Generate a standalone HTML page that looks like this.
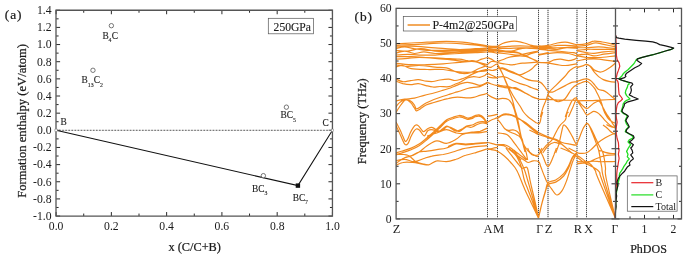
<!DOCTYPE html>
<html><head><meta charset="utf-8"><style>
html,body{margin:0;padding:0;background:#fff;}
svg{display:block;filter:blur(0.3px);}
text{font-family:"Liberation Serif", serif;fill:#1a1a1a;}
.b{stroke:#1a1a1a;stroke-width:0.22px;}
.m{stroke:#1a1a1a;stroke-width:0.12px;}
</style></head><body>
<svg width="685" height="257" viewBox="0 0 685 257">
<path d="M56.10 216.06v-4M56.10 10.26v4M83.73 216.06v-2.5M83.73 10.26v2.5M111.37 216.06v-4M111.37 10.26v4M139.00 216.06v-2.5M139.00 10.26v2.5M166.64 216.06v-4M166.64 10.26v4M194.27 216.06v-2.5M194.27 10.26v2.5M221.91 216.06v-4M221.91 10.26v4M249.54 216.06v-2.5M249.54 10.26v2.5M277.18 216.06v-4M277.18 10.26v4M304.81 216.06v-2.5M304.81 10.26v2.5M332.45 216.06v-4M332.45 10.26v4M56.1 216.06h4M332.45 216.06h-4M56.1 207.48h2.5M332.45 207.48h-2.5M56.1 198.91h4M332.45 198.91h-4M56.1 190.33h2.5M332.45 190.33h-2.5M56.1 181.76h4M332.45 181.76h-4M56.1 173.19h2.5M332.45 173.19h-2.5M56.1 164.61h4M332.45 164.61h-4M56.1 156.03h2.5M332.45 156.03h-2.5M56.1 147.46h4M332.45 147.46h-4M56.1 138.89h2.5M332.45 138.89h-2.5M56.1 130.31h4M332.45 130.31h-4M56.1 121.73h2.5M332.45 121.73h-2.5M56.1 113.16h4M332.45 113.16h-4M56.1 104.59h2.5M332.45 104.59h-2.5M56.1 96.01h4M332.45 96.01h-4M56.1 87.44h2.5M332.45 87.44h-2.5M56.1 78.86h4M332.45 78.86h-4M56.1 70.28h2.5M332.45 70.28h-2.5M56.1 61.71h4M332.45 61.71h-4M56.1 53.13h2.5M332.45 53.13h-2.5M56.1 44.56h4M332.45 44.56h-4M56.1 35.98h2.5M332.45 35.98h-2.5M56.1 27.41h4M332.45 27.41h-4M56.1 18.83h2.5M332.45 18.83h-2.5M56.1 10.26h4M332.45 10.26h-4" stroke="#2a2a2a" stroke-width="1" fill="none"/>
<path d="M56.0 9.61V216.71M332.45 9.61V216.71M55.45 10.26H333.09999999999997M55.45 216.06H333.09999999999997" fill="none" stroke="#555555" stroke-width="1.3"/>
<line x1="56.1" y1="130.31" x2="332.45" y2="130.31" stroke="#dcdcdc" stroke-width="0.9"/>
<line x1="56.1" y1="130.31" x2="332.45" y2="130.31" stroke="#505050" stroke-width="0.9" stroke-dasharray="1.6 1.47"/>
<polyline points="56.1,130.31 297.91,185.62 332.45,130.31" fill="none" stroke="#111" stroke-width="1.05"/>
<circle cx="111.37" cy="25.69" r="2.2" fill="#fff" stroke="#555" stroke-width="0.8"/>
<circle cx="92.95" cy="70.29" r="2.2" fill="#fff" stroke="#555" stroke-width="0.8"/>
<circle cx="286.39" cy="107.16" r="2.2" fill="#fff" stroke="#555" stroke-width="0.8"/>
<circle cx="263.36" cy="175.67" r="2.2" fill="#fff" stroke="#555" stroke-width="0.8"/>
<rect x="295.71" y="183.42" width="4.4" height="4.4" fill="#111"/>
<rect x="54.90" y="129.11" width="2.4" height="2.4" fill="#fff" stroke="#777" stroke-width="0.5"/>
<rect x="331.25" y="129.11" width="2.4" height="2.4" fill="#fff" stroke="#777" stroke-width="0.5"/>
<text x="56.10" y="230" font-size="11.7" text-anchor="middle">0.0</text>
<text x="111.37" y="230" font-size="11.7" text-anchor="middle">0.2</text>
<text x="166.64" y="230" font-size="11.7" text-anchor="middle">0.4</text>
<text x="221.91" y="230" font-size="11.7" text-anchor="middle">0.6</text>
<text x="277.18" y="230" font-size="11.7" text-anchor="middle">0.8</text>
<text x="332.45" y="230" font-size="11.7" text-anchor="middle">1.0</text>
<text x="51.6" y="219.86" font-size="11.7" text-anchor="end">-1.0</text>
<text x="51.6" y="202.71" font-size="11.7" text-anchor="end">-0.8</text>
<text x="51.6" y="185.56" font-size="11.7" text-anchor="end">-0.6</text>
<text x="51.6" y="168.41" font-size="11.7" text-anchor="end">-0.4</text>
<text x="51.6" y="151.26" font-size="11.7" text-anchor="end">-0.2</text>
<text x="51.6" y="134.11" font-size="11.7" text-anchor="end">0.0</text>
<text x="51.6" y="116.96" font-size="11.7" text-anchor="end">0.2</text>
<text x="51.6" y="99.81" font-size="11.7" text-anchor="end">0.4</text>
<text x="51.6" y="82.66" font-size="11.7" text-anchor="end">0.6</text>
<text x="51.6" y="65.51" font-size="11.7" text-anchor="end">0.8</text>
<text x="51.6" y="48.36" font-size="11.7" text-anchor="end">1.0</text>
<text x="51.6" y="31.21" font-size="11.7" text-anchor="end">1.2</text>
<text x="51.6" y="14.06" font-size="11.7" text-anchor="end">1.4</text>
<text x="102.4" y="38.8" font-size="9.4" class="m"><tspan>B</tspan><tspan font-size="5.8" dy="3.3" dx="-0.1">4</tspan><tspan dy="-3.3" dx="0.3">C</tspan></text>
<text x="81.6" y="83.4" font-size="9.4" class="m"><tspan>B</tspan><tspan font-size="5.8" dy="3.3" dx="-0.1">13</tspan><tspan dy="-3.3" dx="0.3">C</tspan><tspan font-size="5.8" dy="3.3" dx="-0.1">2</tspan></text>
<text x="280.5" y="118.3" font-size="9.4" class="m"><tspan>BC</tspan><tspan font-size="5.8" dy="3.3" dx="-0.1">5</tspan></text>
<text x="252.0" y="192.1" font-size="9.4" class="m"><tspan>BC</tspan><tspan font-size="5.8" dy="3.3" dx="-0.1">3</tspan></text>
<text x="292.7" y="200.7" font-size="9.4" class="m"><tspan>BC</tspan><tspan font-size="5.8" dy="3.3" dx="-0.1">7</tspan></text>
<text x="60.5" y="125.1" font-size="9.4" class="m"><tspan>B</tspan></text>
<text x="322.4" y="125.6" font-size="9.4" class="m"><tspan>C</tspan></text>
<rect x="268.3" y="18.3" width="45.1" height="15.5" fill="#fff" stroke="#555" stroke-width="0.7"/>
<text x="273.6" y="31.3" font-size="11.6" class="m">250GPa</text>
<text x="194.7" y="250.7" font-size="12.3" text-anchor="middle" class="b">x (C/C+B)</text>
<text transform="translate(25.5 120.9) rotate(-90)" font-size="12.6" text-anchor="middle" class="b">Formation enthalpy (eV/atom)</text>
<text x="4.8" y="19.4" font-size="13.4" letter-spacing="0.9" class="b">(a)</text>
<line x1="487.5" y1="8" x2="487.5" y2="218" stroke="#d0d0d0" stroke-width="1"/>
<line x1="487.5" y1="8" x2="487.5" y2="218" stroke="#4a4a4a" stroke-width="1" stroke-dasharray="1 1"/>
<line x1="497.5" y1="8" x2="497.5" y2="218" stroke="#d0d0d0" stroke-width="1"/>
<line x1="497.5" y1="8" x2="497.5" y2="218" stroke="#4a4a4a" stroke-width="1" stroke-dasharray="1 1"/>
<line x1="538.5" y1="8" x2="538.5" y2="218" stroke="#d0d0d0" stroke-width="1"/>
<line x1="538.5" y1="8" x2="538.5" y2="218" stroke="#4a4a4a" stroke-width="1" stroke-dasharray="1 1"/>
<line x1="548.0" y1="8" x2="548.0" y2="218" stroke="#d0d0d0" stroke-width="1"/>
<line x1="548.0" y1="8" x2="548.0" y2="218" stroke="#4a4a4a" stroke-width="1" stroke-dasharray="1 1"/>
<line x1="577.0" y1="8" x2="577.0" y2="218" stroke="#d0d0d0" stroke-width="1"/>
<line x1="577.0" y1="8" x2="577.0" y2="218" stroke="#4a4a4a" stroke-width="1" stroke-dasharray="1 1"/>
<line x1="586.5" y1="8" x2="586.5" y2="218" stroke="#d0d0d0" stroke-width="1"/>
<line x1="586.5" y1="8" x2="586.5" y2="218" stroke="#4a4a4a" stroke-width="1" stroke-dasharray="1 1"/>
<defs><clipPath id="bc0"><rect x="396" y="8.5" width="91.5" height="210"/></clipPath><clipPath id="bc1"><rect x="487.5" y="8.5" width="10.0" height="210"/></clipPath><clipPath id="bc2"><rect x="538.5" y="8.5" width="38.5" height="210"/></clipPath><clipPath id="bc3"><rect x="487.5" y="8.5" width="89.5" height="210"/></clipPath><clipPath id="bc4"><rect x="497.5" y="8.5" width="41.0" height="210"/></clipPath><clipPath id="bc5"><rect x="577" y="8.5" width="38.5" height="210"/></clipPath></defs><g fill="none" stroke="#F28A1E" stroke-width="1.2" stroke-linejoin="round"><path clip-path="url(#bc0)" d="M395.0 43.8C397.7 43.7 405.7 43.3 411.1 43.0C416.4 42.8 421.2 42.5 427.1 42.2C433.0 42.0 440.5 41.4 446.4 41.4C452.3 41.4 457.6 41.8 462.4 42.2C467.3 42.6 471.1 43.2 475.3 43.8C479.4 44.4 485.3 45.6 487.3 45.9M395.0 45.4C397.7 45.3 405.7 44.9 411.1 44.6C416.4 44.4 421.8 44.1 427.1 43.8C432.5 43.6 437.3 43.0 443.2 43.0C449.1 43.0 456.6 43.4 462.4 43.8C468.3 44.2 474.4 45.0 478.5 45.4C482.7 45.9 485.9 46.4 487.3 46.6M395.0 47.0C397.7 46.9 404.4 46.1 411.1 46.2C417.8 46.4 427.1 47.3 435.1 47.8C443.2 48.4 452.5 49.3 459.2 49.5C465.9 49.6 470.6 48.9 475.3 48.7C480.0 48.4 485.3 48.0 487.3 47.8M395.0 48.7C396.6 48.4 401.4 47.0 404.6 47.0C407.8 47.0 410.5 48.1 414.3 48.7C418.0 49.2 422.3 50.0 427.1 50.3C431.9 50.5 437.3 50.3 443.2 50.3C449.1 50.3 455.1 50.4 462.4 50.3C469.8 50.1 483.2 49.3 487.3 49.1M395.0 50.3C397.1 50.4 403.6 51.3 407.8 51.1C412.1 50.8 416.1 48.7 420.7 48.7C425.2 48.7 430.1 50.5 435.1 51.1C440.2 51.6 445.9 51.9 451.2 51.9C456.6 51.9 461.2 51.3 467.3 51.1C473.3 50.8 484.0 50.4 487.3 50.3M395.0 53.5C396.6 53.1 401.4 51.1 404.6 51.1C407.8 51.1 411.1 53.3 414.3 53.5C417.5 53.6 420.4 51.9 423.9 51.9C427.4 51.9 430.6 53.3 435.1 53.5C439.7 53.6 445.9 52.9 451.2 52.7C456.6 52.4 461.2 52.1 467.3 51.9C473.3 51.6 484.0 51.2 487.3 51.1M395.0 55.1C397.1 54.9 403.8 54.3 407.8 54.3C411.9 54.3 414.5 54.9 419.1 55.1C423.6 55.2 431.1 55.2 435.1 55.1C439.2 54.9 439.2 54.5 443.2 54.3C447.2 54.0 453.9 53.7 459.2 53.5C464.6 53.2 470.6 52.9 475.3 52.7C480.0 52.4 485.3 52.0 487.3 51.9M395.0 56.7C397.7 56.7 405.7 56.5 411.1 56.7C416.4 56.8 421.8 57.2 427.1 57.5C432.5 57.8 437.8 58.0 443.2 58.3C448.5 58.6 455.2 58.7 459.2 59.1C463.3 59.5 464.6 60.3 467.3 60.7C469.9 61.1 472.9 61.8 475.3 61.5C477.7 61.2 479.7 59.8 481.7 59.1C483.7 58.4 486.4 57.8 487.3 57.5M395.0 59.1C397.1 59.0 403.8 58.6 407.8 58.3C411.9 58.0 414.5 57.5 419.1 57.5C423.6 57.5 429.8 57.9 435.1 58.3C440.5 58.7 446.4 59.4 451.2 59.9C456.0 60.4 460.6 61.4 464.1 61.5C467.5 61.6 469.7 60.6 472.1 60.7C474.5 60.8 476.0 61.6 478.5 62.3C481.0 63.0 485.9 64.3 487.3 64.7M395.0 63.1C397.7 63.4 405.7 64.4 411.1 64.7C416.4 65.0 421.8 64.8 427.1 64.7C432.5 64.6 437.8 64.3 443.2 63.9C448.5 63.5 454.4 62.7 459.2 62.3C464.1 61.9 468.9 61.4 472.1 61.5C475.3 61.6 476.4 62.0 478.5 62.6C480.6 63.3 483.5 64.9 484.9 65.5C486.4 66.1 486.9 66.2 487.3 66.3M395.0 64.7C397.1 65.0 403.8 66.2 407.8 66.3C411.9 66.4 414.5 65.4 419.1 65.5C423.6 65.6 430.6 66.7 435.1 67.1C439.7 67.5 442.9 67.1 446.4 67.9C449.9 68.7 453.3 71.0 456.0 71.9C458.7 72.9 460.0 73.4 462.4 73.5C464.9 73.7 467.8 73.5 470.5 72.7C473.2 71.9 476.1 69.8 478.5 68.7C480.9 67.7 483.5 66.6 484.9 66.3C486.4 66.0 486.9 67.0 487.3 67.1M395.0 67.1C396.3 66.9 400.4 65.2 403.0 65.5C405.7 65.8 407.0 68.1 411.1 68.7C415.1 69.4 421.8 69.4 427.1 69.5C432.5 69.7 438.4 69.2 443.2 69.5C448.0 69.9 452.0 71.2 456.0 71.6C460.0 72.1 463.5 72.3 467.3 72.3C471.0 72.3 475.2 71.9 478.5 71.6C481.9 71.3 485.9 70.8 487.3 70.7M395.0 78.7C396.3 79.2 400.2 81.4 402.8 81.7C405.4 82.0 408.0 81.0 410.6 80.7C413.2 80.4 415.7 79.6 418.3 79.7C420.9 79.8 423.7 80.9 426.1 81.2C428.6 81.5 430.7 81.7 433.0 81.5C435.3 81.3 437.4 80.4 440.0 80.0C442.6 79.6 446.2 79.1 448.7 79.2C451.2 79.3 452.8 80.5 454.9 80.5C457.0 80.5 459.0 79.8 461.1 79.2C463.2 78.6 465.3 77.6 467.4 76.7C469.5 75.8 471.5 74.5 473.6 73.6C475.7 72.7 477.9 71.7 479.8 71.1C481.7 70.5 483.5 70.2 484.8 69.9C486.1 69.6 486.2 69.4 487.5 69.5C488.8 69.6 490.6 70.5 492.3 70.5C494.0 70.5 496.6 69.4 497.5 69.2M395.0 80.7C396.3 81.2 400.2 82.9 402.8 83.6C405.4 84.2 408.0 84.6 410.6 84.6C413.2 84.6 415.7 83.4 418.3 83.6C420.9 83.8 423.7 85.0 426.1 85.6C428.6 86.2 430.7 86.8 433.0 87.0C435.3 87.2 437.4 86.5 440.0 86.5C442.6 86.5 446.2 87.1 448.7 86.7C451.2 86.3 452.8 85.0 454.9 84.2C457.0 83.4 459.0 82.7 461.1 81.7C463.2 80.7 465.3 78.8 467.4 78.0C469.5 77.2 471.5 76.8 473.6 76.7C475.7 76.6 477.9 77.5 479.8 77.3C481.7 77.1 483.5 76.1 484.8 75.5C486.1 74.9 486.2 73.6 487.5 73.6C488.8 73.6 490.6 74.8 492.3 75.5C494.0 76.2 496.6 77.6 497.5 78.0M395.0 101.1C396.6 100.8 401.5 99.7 404.7 99.2C407.9 98.7 411.1 98.9 414.4 98.2C417.6 97.5 420.9 96.2 424.2 95.3C427.4 94.4 430.8 93.8 433.9 93.0C436.9 92.2 440.0 91.2 442.5 90.4C445.0 89.7 446.6 89.2 448.7 88.5C450.8 87.8 452.8 86.9 454.9 86.1C457.0 85.3 459.0 84.2 461.1 83.6C463.2 83.0 465.3 82.3 467.4 82.3C469.5 82.3 471.5 83.1 473.6 83.6C475.7 84.1 477.9 85.4 479.8 85.4C481.7 85.4 483.5 84.1 484.8 83.6C486.1 83.1 486.2 82.2 487.5 82.3C488.8 82.4 490.6 83.6 492.3 84.2C494.0 84.8 496.6 85.8 497.5 86.1M395.0 108.5C395.6 107.6 397.3 104.5 398.9 103.1C400.5 101.6 402.8 100.1 404.7 99.8C406.6 99.5 409.0 100.2 410.6 101.1C412.2 102.0 413.4 103.7 414.4 105.0C415.4 106.3 415.4 108.6 416.4 108.9C417.4 109.2 418.7 107.9 420.3 106.9C421.9 105.9 423.8 104.2 426.1 103.0C428.4 101.8 431.2 100.6 433.9 99.5C436.6 98.4 440.0 97.3 442.5 96.5C445.0 95.7 446.6 95.2 448.7 94.5C450.8 93.8 452.8 93.1 454.9 92.5C457.0 91.9 459.0 91.5 461.1 90.8C463.2 90.1 465.3 89.1 467.4 88.5C469.5 87.9 471.5 87.6 473.6 87.3C475.7 87.0 477.9 87.2 479.8 86.7C481.7 86.2 483.5 84.8 484.8 84.2C486.1 83.6 487.1 83.1 487.5 82.9M395.0 114.0C396.0 112.5 399.0 107.4 400.8 105.0C402.6 102.6 404.1 100.2 405.7 99.8C407.3 99.4 409.2 101.2 410.6 102.6C412.1 104.0 413.4 106.6 414.4 108.0C415.4 109.4 415.4 110.6 416.4 110.8C417.4 111.0 418.7 109.9 420.3 108.9C421.9 107.9 423.8 106.1 426.1 105.0C428.4 103.9 431.2 103.3 433.9 102.5C436.6 101.7 440.0 100.7 442.5 100.0C445.0 99.3 446.6 99.0 448.7 98.5C450.8 98.0 452.8 97.5 454.9 97.3C457.0 97.1 459.0 97.2 461.1 97.3C463.2 97.4 465.3 97.9 467.4 97.9C469.5 97.9 471.5 97.7 473.6 97.3C475.7 96.9 477.9 95.9 479.8 95.4C481.7 94.9 483.5 94.5 484.8 94.2C486.1 93.9 486.2 93.2 487.5 93.5C488.8 93.8 490.6 95.3 492.3 96.0C494.0 96.7 496.6 97.6 497.5 97.9M427.1 136.1C428.7 135.6 433.5 133.9 436.8 132.9C440.0 131.8 443.2 129.7 446.4 129.7C449.6 129.7 453.3 132.2 456.0 132.9C458.7 133.5 459.8 133.8 462.4 133.7C465.1 133.5 469.1 132.5 472.1 132.1C475.0 131.7 477.6 131.9 480.1 131.3C482.7 130.6 486.1 128.6 487.3 128.1M404.6 157.8C406.0 157.4 410.3 156.3 412.7 155.4C415.1 154.4 416.7 153.8 419.1 152.1C421.5 150.5 424.2 147.6 427.1 145.7C430.1 143.9 433.5 141.3 436.8 140.9C440.0 140.5 443.2 143.6 446.4 143.3C449.6 143.0 453.3 140.8 456.0 139.3C458.7 137.8 460.0 135.6 462.4 134.5C464.9 133.4 467.8 133.1 470.5 132.9C473.2 132.6 475.7 133.1 478.5 132.9C481.3 132.6 485.9 131.5 487.3 131.3M448.0 146.5C449.3 146.0 453.1 143.7 456.0 143.3C459.0 142.9 462.4 144.1 465.7 144.1C468.9 144.1 471.7 143.6 475.3 143.3C478.9 143.0 485.3 142.6 487.3 142.5M396.0 122.0C396.6 123.3 398.7 127.2 399.9 129.6C401.1 132.0 402.1 134.7 403.0 136.6C403.9 138.5 404.4 140.7 405.1 141.2C405.8 141.7 406.4 141.2 407.3 139.8C408.2 138.4 409.3 134.9 410.3 132.8C411.3 130.7 412.5 128.6 413.4 127.3C414.3 126.0 415.0 125.3 415.8 125.0C416.6 124.7 417.3 124.9 418.2 125.6C419.1 126.3 420.4 128.4 421.3 129.4C422.2 130.4 422.7 131.8 423.8 131.6C424.9 131.4 426.7 129.2 428.0 128.5C429.3 127.8 430.4 127.2 431.7 127.3C432.9 127.4 434.2 128.6 435.5 129.2C436.8 129.8 438.0 131.1 439.2 131.0C440.4 130.9 441.6 129.3 442.9 128.5C444.1 127.7 445.4 126.2 446.7 126.1C447.9 126.0 448.9 127.1 450.4 127.9C451.8 128.7 453.9 130.6 455.4 131.0C456.8 131.4 457.9 130.8 459.1 130.4C460.4 130.0 461.6 129.2 462.9 128.5C464.1 127.8 465.4 126.6 466.6 126.1C467.8 125.6 469.1 125.7 470.3 125.4C471.6 125.1 472.9 124.7 474.1 124.2C475.4 123.7 476.4 122.7 477.8 122.3C479.2 121.9 481.2 121.6 482.8 121.7C484.4 121.8 486.7 122.8 487.5 123.0M396.0 125.5C396.6 126.7 398.3 130.4 399.4 132.8C400.5 135.2 401.6 137.8 402.5 139.8C403.4 141.8 404.2 144.0 405.1 144.6C406.0 145.2 406.9 144.9 407.9 143.6C408.9 142.3 410.0 138.7 411.0 136.6C412.0 134.5 413.1 132.5 414.0 131.2C414.9 129.9 415.3 129.2 416.2 129.0C417.1 128.8 418.3 129.2 419.3 130.0C420.3 130.8 421.3 132.8 422.2 133.8C423.1 134.8 423.6 136.4 424.6 135.8C425.6 135.2 426.6 131.5 428.0 130.5C429.4 129.5 431.3 129.6 433.0 129.8C434.7 130.0 436.3 131.6 438.0 131.6C439.7 131.6 441.6 130.6 443.0 129.8C444.4 129.0 445.5 127.1 446.7 126.7C447.9 126.3 448.9 126.8 450.4 127.3C451.8 127.8 453.9 129.1 455.4 129.8C456.8 130.5 457.9 131.7 459.1 131.6C460.4 131.5 461.6 130.0 462.9 129.2C464.1 128.4 465.4 127.0 466.6 126.7C467.8 126.4 469.3 127.3 470.3 127.3C471.3 127.3 471.6 127.2 472.8 126.7C474.1 126.2 476.1 124.8 477.8 124.2C479.5 123.6 481.2 123.1 482.8 123.0C484.4 122.9 486.7 123.7 487.5 123.8M396.0 153.0C396.9 152.7 398.9 152.1 401.4 151.3C403.9 150.5 408.2 149.3 411.1 148.1C414.1 146.9 416.4 145.8 419.1 144.1C421.8 142.4 424.6 139.8 427.1 137.7C429.6 135.6 432.0 133.5 434.2 131.5C436.4 129.5 438.4 127.5 440.5 125.5C442.6 123.5 444.6 121.2 446.7 119.8C448.8 118.4 450.8 118.0 452.9 117.3C455.0 116.6 457.4 115.7 459.1 115.5C460.8 115.3 461.4 115.7 462.9 116.1C464.3 116.5 466.4 117.8 467.8 118.0C469.2 118.2 470.4 117.7 471.6 117.3C472.9 116.9 474.1 115.9 475.3 115.5C476.5 115.1 477.8 114.6 479.0 114.8C480.2 115.0 481.6 115.5 482.8 116.7C484.1 117.9 485.7 120.7 486.5 121.7C487.3 122.7 487.3 122.4 487.5 122.5M396.0 155.0C396.9 154.7 398.9 153.9 401.4 153.0C403.9 152.1 408.2 151.0 411.1 149.8C414.1 148.6 416.4 147.5 419.1 145.8C421.8 144.1 424.6 141.6 427.1 139.5C429.6 137.4 432.0 135.2 434.2 133.2C436.4 131.1 438.4 129.2 440.5 127.2C442.6 125.2 444.6 122.7 446.7 121.3C448.8 119.9 450.8 119.4 452.9 118.7C455.0 118.0 457.3 117.2 459.1 117.0C460.9 116.8 462.1 117.4 463.5 117.8C464.9 118.2 466.4 119.2 467.8 119.3C469.2 119.4 470.4 119.0 471.6 118.6C472.9 118.2 474.1 117.2 475.3 116.8C476.5 116.4 477.8 116.0 479.0 116.2C480.2 116.4 481.6 116.9 482.8 118.0C484.1 119.1 485.7 121.7 486.5 122.6C487.3 123.5 487.3 123.1 487.5 123.2M395.0 165.7C396.3 165.2 400.1 163.0 403.0 162.5C406.0 161.9 409.5 162.2 412.7 162.5C415.9 162.8 419.6 163.7 422.3 164.1C425.0 164.5 426.3 165.4 428.7 164.9C431.1 164.4 433.8 161.4 436.8 160.9C439.7 160.3 443.2 161.9 446.4 161.7C449.6 161.4 452.8 160.3 456.0 159.3C459.2 158.2 462.4 156.3 465.7 155.3C468.9 154.2 471.7 153.9 475.3 152.8C478.9 151.8 485.3 149.5 487.3 148.8M395.0 160.9C396.6 160.6 401.4 159.1 404.6 159.3C407.8 159.4 411.1 161.8 414.3 161.7C417.5 161.5 421.0 159.4 423.9 158.5C426.9 157.5 428.7 156.7 431.9 156.1C435.1 155.4 439.7 155.1 443.2 154.5C446.7 153.8 449.6 153.0 452.8 152.0C456.0 151.1 459.2 149.6 462.4 148.8C465.7 148.0 467.9 147.8 472.1 147.2C476.2 146.7 484.8 145.9 487.3 145.6M395.0 164.1C396.6 163.0 402.0 159.0 404.6 157.7C407.3 156.3 408.7 157.0 411.1 156.1C413.5 155.1 416.4 152.8 419.1 152.0C421.8 151.2 424.2 151.6 427.1 151.2C430.1 150.8 433.5 150.2 436.8 149.6C440.0 149.1 443.2 149.0 446.4 148.0C449.6 147.1 452.8 144.6 456.0 144.0C459.2 143.5 462.4 144.8 465.7 144.8C468.9 144.8 471.7 144.3 475.3 144.0C478.9 143.7 485.3 143.3 487.3 143.2M395.0 154.1C397.1 154.3 404.4 154.0 407.8 155.3C411.3 156.5 413.2 160.2 415.9 161.7C418.6 163.2 421.8 163.6 423.9 164.1C426.0 164.6 427.9 164.8 428.7 164.9"/><path clip-path="url(#bc1)" d="M484.8 69.9C485.2 69.8 486.2 69.4 487.5 69.5C488.8 69.6 490.6 70.5 492.3 70.5C494.0 70.5 496.2 69.5 497.5 69.2C498.8 68.9 499.6 68.9 500.0 68.8M484.8 75.5C485.2 75.2 486.2 73.6 487.5 73.6C488.8 73.6 490.6 74.8 492.3 75.5C494.0 76.2 496.2 77.5 497.5 78.0C498.8 78.5 499.6 78.4 500.0 78.5M487.4 45.9C489.1 46.0 494.4 46.9 497.5 46.2C500.6 45.6 502.9 43.2 505.9 42.2C508.9 41.3 512.3 40.6 515.5 40.6C518.7 40.6 522.2 41.6 525.1 42.2C528.1 42.9 530.9 44.0 533.2 44.6C535.5 45.3 536.3 45.8 538.8 45.9C541.3 46.1 545.0 45.9 548.1 45.4C551.2 45.0 554.4 43.6 557.3 43.0C560.1 42.5 562.6 42.1 565.3 42.2C568.0 42.4 571.4 43.4 573.3 43.8C575.3 44.2 574.7 44.6 576.9 44.6C579.1 44.6 583.5 44.2 586.5 43.8C589.5 43.4 593.6 42.5 595.0 42.2M487.4 46.6C489.1 46.6 493.9 46.7 497.5 46.6C501.1 46.4 504.5 45.5 509.1 45.4C513.7 45.4 520.2 46.1 525.1 46.2C530.1 46.4 535.0 46.5 538.8 46.6C542.6 46.6 545.0 46.7 548.1 46.6C551.2 46.4 554.4 45.6 557.3 45.4C560.1 45.3 562.0 45.4 565.3 45.4C568.6 45.5 573.3 45.8 576.9 45.9C580.4 46.1 583.5 46.4 586.5 46.2C589.5 46.1 593.6 45.2 595.0 45.0M487.4 47.8C489.1 47.8 493.9 47.7 497.5 47.8C501.1 48.0 504.5 48.7 509.1 48.7C513.7 48.7 520.2 48.0 525.1 47.8C530.1 47.7 535.0 47.6 538.8 47.5C542.6 47.5 545.0 47.5 548.1 47.5C551.2 47.6 552.5 47.9 557.3 47.8C562.1 47.8 572.0 47.1 576.9 47.0C581.7 47.0 583.5 47.5 586.5 47.5C589.5 47.5 593.6 47.1 595.0 47.0M487.4 49.1C489.1 49.2 493.9 49.1 497.5 49.5C501.1 49.8 505.0 50.9 509.1 51.1C513.2 51.2 517.9 50.7 521.9 50.3C526.0 49.9 530.4 48.9 533.2 48.7C536.0 48.4 536.3 48.7 538.8 48.7C541.3 48.7 545.0 48.5 548.1 48.7C551.2 48.8 554.4 49.6 557.3 49.5C560.1 49.3 562.0 48.1 565.3 47.8C568.6 47.6 573.3 48.0 576.9 48.2C580.4 48.3 583.5 48.6 586.5 48.7C589.5 48.7 593.6 48.7 595.0 48.7M487.4 50.3C489.1 50.3 494.4 50.0 497.5 50.3C500.6 50.5 502.6 51.5 505.9 51.9C509.1 52.3 513.9 52.8 517.1 52.7C520.3 52.5 521.5 51.6 525.1 51.1C528.8 50.5 535.0 49.6 538.8 49.5C542.6 49.3 545.0 50.0 548.1 50.3C551.2 50.5 553.1 50.7 557.3 51.1C561.5 51.5 570.1 52.3 573.3 52.7C576.6 53.1 574.7 53.5 576.9 53.5C579.1 53.5 583.5 52.9 586.5 52.7C589.5 52.4 593.6 52.0 595.0 51.9M487.4 51.1C489.1 51.1 493.6 51.2 497.5 51.1C501.4 50.9 506.9 49.9 510.7 50.3C514.5 50.7 517.4 52.5 520.3 53.5C523.3 54.4 525.3 55.6 528.4 55.9C531.4 56.1 535.5 55.5 538.8 55.1C542.1 54.7 545.0 53.9 548.1 53.5C551.2 53.1 553.9 52.7 557.3 52.7C560.7 52.7 565.2 52.9 568.5 53.5C571.8 54.0 573.9 55.3 576.9 55.9C579.9 56.4 583.5 56.7 586.5 56.7C589.5 56.7 593.6 56.0 595.0 55.9M487.4 51.9C488.6 52.0 491.8 52.1 494.6 52.7C497.4 53.2 500.5 54.5 504.3 55.1C508.0 55.6 512.6 55.2 517.1 55.9C521.7 56.5 528.0 58.0 531.6 59.1C535.2 60.2 536.0 61.8 538.8 62.3C541.6 62.8 545.6 62.7 548.1 62.3C550.7 61.9 552.0 60.4 554.1 59.9C556.1 59.4 558.1 59.0 560.5 59.1C562.9 59.2 566.1 60.7 568.5 60.7C570.9 60.7 573.5 59.6 574.9 59.1C576.3 58.6 576.5 57.8 576.9 57.5M487.4 57.5C488.1 57.8 489.7 58.3 491.4 59.1C493.1 59.9 494.6 62.3 497.5 62.3C500.5 62.3 505.0 60.2 509.1 59.1C513.2 58.0 517.9 56.7 521.9 55.9C526.0 55.1 530.4 54.5 533.2 54.3C536.0 54.0 536.3 54.5 538.8 54.3C541.3 54.0 546.6 52.9 548.1 52.7M487.4 64.7C488.1 64.2 489.7 61.9 491.4 61.5C493.1 61.1 495.4 61.5 497.5 62.3C499.7 63.1 501.5 65.0 504.3 66.3C507.0 67.7 511.0 69.1 513.9 70.3C516.9 71.5 519.8 72.6 521.9 73.5C524.1 74.5 526.0 75.5 526.8 76.0M487.4 67.1C488.1 67.1 489.7 67.7 491.4 67.1C493.1 66.6 494.6 64.3 497.5 63.9C500.5 63.5 504.5 64.8 509.1 64.7C513.7 64.6 520.2 63.5 525.1 63.1C530.1 62.7 535.0 62.3 538.8 62.3C542.6 62.3 545.0 62.7 548.1 63.1C551.2 63.5 554.4 64.3 557.3 64.7C560.1 65.1 562.0 65.6 565.3 65.5C568.6 65.4 573.3 64.3 576.9 63.9C580.4 63.5 583.5 63.4 586.5 63.1C589.5 62.8 593.6 62.4 595.0 62.3M497.5 65.5C498.9 66.0 503.1 67.7 505.9 68.7C508.6 69.8 511.5 70.7 513.9 71.9C516.3 73.1 519.3 75.3 520.3 76.0M565.3 76.0C566.1 75.0 568.2 71.9 570.1 70.3C572.0 68.7 574.1 67.3 576.9 66.3C579.6 65.4 583.5 64.6 586.5 64.7C589.5 64.8 593.6 66.7 595.0 67.1M586.5 67.1C587.2 67.9 589.6 70.9 591.0 71.9C592.4 73.0 594.3 73.3 595.0 73.5M485.0 76.0C486.1 76.3 489.3 77.3 491.4 77.6C493.5 77.9 495.7 77.9 497.5 77.6C499.4 77.3 501.8 76.3 502.7 76.0M513.9 76.0C515.5 76.4 520.3 77.6 523.5 78.4C526.8 79.2 530.4 80.1 533.2 80.8C536.0 81.5 538.5 81.5 540.4 82.4C542.3 83.4 543.1 85.0 544.4 86.4C545.7 87.9 546.8 90.3 548.1 91.3C549.5 92.2 550.9 92.3 552.4 92.1C554.0 91.8 555.1 90.7 557.3 89.7C559.4 88.6 562.9 86.8 565.3 85.6C567.7 84.4 569.8 83.1 571.7 82.4C573.6 81.8 574.4 82.0 576.9 81.6C579.3 81.2 584.1 79.6 586.5 80.0C588.8 80.4 589.6 82.6 591.0 84.0C592.4 85.5 594.3 88.0 595.0 88.8M487.4 82.4C488.1 82.7 489.7 83.5 491.4 84.0C493.1 84.6 495.1 85.2 497.5 85.6C499.9 86.0 503.1 85.6 505.9 86.4C508.6 87.2 511.0 89.1 513.9 90.5C516.9 91.8 520.6 93.1 523.5 94.5C526.5 95.8 529.0 97.7 531.6 98.5C534.1 99.3 536.0 99.2 538.8 99.3C541.6 99.4 545.0 99.2 548.1 99.3C551.2 99.4 554.4 100.0 557.3 100.1C560.1 100.2 562.0 100.0 565.3 100.1C568.6 100.1 573.3 100.4 576.9 100.4C580.4 100.5 583.5 100.4 586.5 100.4C589.5 100.4 593.6 100.4 595.0 100.4M497.5 84.8C499.5 85.0 505.8 85.0 509.1 85.6C512.4 86.3 514.4 87.8 517.1 88.8C519.8 89.9 522.5 90.7 525.1 92.1C527.8 93.4 530.9 95.8 533.2 96.9C535.5 97.9 537.9 98.2 538.8 98.5M502.7 76.0C503.2 77.1 504.8 79.7 505.9 82.4C506.9 85.1 508.0 88.8 509.1 92.1C510.2 95.3 511.0 98.2 512.3 101.7C513.6 105.2 515.9 110.4 517.1 112.9C518.3 115.5 519.1 116.3 519.5 117.0M487.4 94.5C488.1 94.9 489.7 96.1 491.4 96.9C493.1 97.7 495.4 99.0 497.5 99.3C499.7 99.6 502.3 98.3 504.3 98.5C506.2 98.6 507.5 99.3 509.1 100.1C510.7 100.9 512.3 102.0 513.9 103.3C515.5 104.6 517.1 106.5 518.7 108.1C520.3 109.7 522.2 111.5 523.5 112.9C524.9 114.4 526.2 116.3 526.8 117.0M487.4 116.1C488.3 116.0 490.8 115.7 493.0 115.3C495.3 114.9 498.7 113.9 501.1 113.7C503.5 113.6 505.3 114.0 507.5 114.5C509.6 115.1 512.8 116.5 513.9 117.0M565.3 76.0C563.7 77.6 558.3 83.0 555.7 85.6C553.0 88.3 550.8 89.7 549.2 92.1C547.6 94.5 547.1 97.4 546.0 100.1C545.0 102.8 543.7 105.3 542.8 108.1C541.9 110.9 540.8 115.5 540.4 117.0M548.1 95.3C549.1 96.1 552.3 99.0 554.1 100.1C555.8 101.2 557.0 102.0 558.9 101.7C560.7 101.4 563.2 100.6 565.3 98.5C567.4 96.3 569.8 91.1 571.7 88.8C573.6 86.6 574.4 85.8 576.9 84.8C579.3 83.9 584.1 82.8 586.5 83.2C588.8 83.6 589.6 85.8 591.0 87.2C592.4 88.7 594.3 91.3 595.0 92.1M565.3 117.0C565.8 115.5 567.3 110.9 568.5 108.1C569.7 105.3 571.1 101.8 572.5 100.1C573.9 98.3 575.4 97.7 576.9 97.7C578.3 97.7 579.7 98.3 581.4 100.1C583.0 101.8 584.9 106.2 586.5 108.1C588.1 110.0 589.6 111.1 591.0 111.3C592.4 111.6 594.3 110.0 595.0 109.7M568.5 117.0C569.2 115.5 571.1 111.2 572.5 108.1C573.9 105.0 575.4 99.6 576.9 98.5C578.3 97.4 579.7 99.8 581.4 101.7C583.0 103.6 585.6 108.4 586.5 109.7M586.5 106.5C587.2 106.0 589.6 104.4 591.0 103.3C592.4 102.2 594.3 100.6 595.0 100.1M487.4 122.4C488.1 122.0 489.7 120.8 491.4 120.0C493.1 119.2 495.4 118.6 497.5 117.6C499.7 116.6 501.5 114.2 504.3 113.9C507.0 113.7 511.0 115.1 513.9 116.0C516.9 116.9 519.5 118.3 521.9 119.2C524.3 120.2 525.5 120.8 528.4 121.6C531.2 122.4 536.7 124.8 538.8 124.0C540.9 123.2 540.5 118.8 541.2 116.8C541.9 114.8 542.5 112.8 542.8 112.0M497.5 118.4C498.4 119.8 500.7 124.6 502.7 126.5C504.6 128.3 506.9 129.1 509.1 129.7C511.2 130.2 513.6 128.9 515.5 129.7C517.4 130.5 518.7 132.9 520.3 134.5C521.9 136.1 523.5 137.4 525.1 139.3C526.8 141.2 528.6 143.4 530.0 145.7C531.3 148.0 532.6 151.7 533.2 153.0M497.5 120.0C498.4 120.8 501.0 123.4 502.7 124.8C504.3 126.3 505.6 128.3 507.5 128.9C509.4 129.4 512.0 127.4 513.9 128.1C515.8 128.7 517.1 131.1 518.7 132.9C520.3 134.6 521.9 136.6 523.5 138.5C525.1 140.4 527.0 141.7 528.4 144.1C529.7 146.5 531.0 151.5 531.6 153.0M513.9 112.0C514.4 113.6 516.0 118.4 517.1 121.6C518.2 124.8 519.3 128.1 520.3 131.3C521.4 134.5 522.5 138.0 523.5 140.9C524.6 143.9 526.0 146.9 526.8 148.9C527.6 150.9 528.1 152.3 528.4 153.0M487.4 142.5C488.1 142.6 489.7 142.9 491.4 143.3C493.1 143.7 495.4 144.8 497.5 144.9C499.7 145.1 502.1 144.0 504.3 144.1C506.5 144.3 508.6 144.9 510.7 145.7C512.8 146.5 515.2 147.7 517.1 148.9C519.0 150.1 521.1 152.3 521.9 153.0M487.4 149.7C489.1 149.3 494.4 147.6 497.5 147.3C500.6 147.1 503.4 147.6 505.9 148.1C508.3 148.7 510.4 149.7 512.3 150.5C514.2 151.3 516.3 152.5 517.1 153.0M538.8 132.9C540.4 133.5 545.3 135.8 548.1 136.9C550.9 138.0 553.3 138.4 555.7 139.3C558.0 140.2 559.7 141.7 562.1 142.5C564.5 143.3 567.7 143.7 570.1 144.1C572.6 144.5 575.0 145.7 576.9 144.9C578.7 144.1 579.7 141.6 581.4 139.3C583.0 137.0 584.9 134.2 586.5 131.3C588.1 128.3 589.6 123.8 591.0 121.6C592.4 119.5 594.3 119.0 595.0 118.4M538.8 134.5C540.4 135.0 545.0 136.6 548.1 137.7C551.2 138.8 554.4 139.3 557.3 140.9C560.1 142.5 562.9 145.3 565.3 147.3C567.7 149.3 570.6 152.0 571.7 153.0M540.4 153.0C541.3 151.7 544.0 148.0 546.0 145.7C548.0 143.4 550.6 142.0 552.4 139.3C554.3 136.6 555.9 132.1 557.3 129.7C558.6 127.3 559.1 126.5 560.5 124.8C561.8 123.2 564.2 121.9 565.3 120.0C566.4 118.2 566.4 114.9 566.9 113.6C567.4 112.3 568.2 112.3 568.5 112.0M555.7 153.0C556.2 151.5 557.9 147.5 558.9 144.1C559.8 140.8 560.7 135.9 561.4 132.9C562.1 129.9 562.5 127.4 563.0 126.1C563.6 124.8 563.9 124.7 564.7 125.2C565.5 125.6 566.6 126.9 567.9 128.9C569.2 130.8 571.0 134.3 572.5 136.9C574.0 139.4 575.4 144.3 576.9 144.1C578.3 144.0 579.7 138.8 581.4 136.1C583.0 133.4 584.9 130.5 586.5 128.1C588.1 125.7 589.6 123.2 591.0 121.6C592.4 120.0 594.3 119.0 595.0 118.4M542.8 153.0C543.7 151.7 546.2 147.5 548.1 145.7C550.0 144.0 552.0 142.8 554.1 142.5C556.1 142.2 559.4 143.9 560.5 144.1M581.4 112.0C582.2 112.5 584.9 114.9 586.5 115.2C588.1 115.5 589.6 114.1 591.0 113.6C592.4 113.1 594.3 112.3 595.0 112.0"/><path clip-path="url(#bc2)" d="M487.4 45.9C489.1 46.0 494.4 46.9 497.5 46.2C500.6 45.6 502.9 43.2 505.9 42.2C508.9 41.3 512.3 40.6 515.5 40.6C518.7 40.6 522.2 41.6 525.1 42.2C528.1 42.9 530.9 44.0 533.2 44.6C535.5 45.3 536.3 45.8 538.8 45.9C541.3 46.1 545.0 45.9 548.1 45.4C551.2 45.0 554.4 43.6 557.3 43.0C560.1 42.5 562.6 42.1 565.3 42.2C568.0 42.4 571.4 43.4 573.3 43.8C575.3 44.2 574.7 44.6 576.9 44.6C579.1 44.6 583.5 44.2 586.5 43.8C589.5 43.4 593.6 42.5 595.0 42.2M487.4 46.6C489.1 46.6 493.9 46.7 497.5 46.6C501.1 46.4 504.5 45.5 509.1 45.4C513.7 45.4 520.2 46.1 525.1 46.2C530.1 46.4 535.0 46.5 538.8 46.6C542.6 46.6 545.0 46.7 548.1 46.6C551.2 46.4 554.4 45.6 557.3 45.4C560.1 45.3 562.0 45.4 565.3 45.4C568.6 45.5 573.3 45.8 576.9 45.9C580.4 46.1 583.5 46.4 586.5 46.2C589.5 46.1 593.6 45.2 595.0 45.0M487.4 47.8C489.1 47.8 493.9 47.7 497.5 47.8C501.1 48.0 504.5 48.7 509.1 48.7C513.7 48.7 520.2 48.0 525.1 47.8C530.1 47.7 535.0 47.6 538.8 47.5C542.6 47.5 545.0 47.5 548.1 47.5C551.2 47.6 552.5 47.9 557.3 47.8C562.1 47.8 572.0 47.1 576.9 47.0C581.7 47.0 583.5 47.5 586.5 47.5C589.5 47.5 593.6 47.1 595.0 47.0M487.4 49.1C489.1 49.2 493.9 49.1 497.5 49.5C501.1 49.8 505.0 50.9 509.1 51.1C513.2 51.2 517.9 50.7 521.9 50.3C526.0 49.9 530.4 48.9 533.2 48.7C536.0 48.4 536.3 48.7 538.8 48.7C541.3 48.7 545.0 48.5 548.1 48.7C551.2 48.8 554.4 49.6 557.3 49.5C560.1 49.3 562.0 48.1 565.3 47.8C568.6 47.6 573.3 48.0 576.9 48.2C580.4 48.3 583.5 48.6 586.5 48.7C589.5 48.7 593.6 48.7 595.0 48.7M487.4 50.3C489.1 50.3 494.4 50.0 497.5 50.3C500.6 50.5 502.6 51.5 505.9 51.9C509.1 52.3 513.9 52.8 517.1 52.7C520.3 52.5 521.5 51.6 525.1 51.1C528.8 50.5 535.0 49.6 538.8 49.5C542.6 49.3 545.0 50.0 548.1 50.3C551.2 50.5 553.1 50.7 557.3 51.1C561.5 51.5 570.1 52.3 573.3 52.7C576.6 53.1 574.7 53.5 576.9 53.5C579.1 53.5 583.5 52.9 586.5 52.7C589.5 52.4 593.6 52.0 595.0 51.9M487.4 51.1C489.1 51.1 493.6 51.2 497.5 51.1C501.4 50.9 506.9 49.9 510.7 50.3C514.5 50.7 517.4 52.5 520.3 53.5C523.3 54.4 525.3 55.6 528.4 55.9C531.4 56.1 535.5 55.5 538.8 55.1C542.1 54.7 545.0 53.9 548.1 53.5C551.2 53.1 553.9 52.7 557.3 52.7C560.7 52.7 565.2 52.9 568.5 53.5C571.8 54.0 573.9 55.3 576.9 55.9C579.9 56.4 583.5 56.7 586.5 56.7C589.5 56.7 593.6 56.0 595.0 55.9M487.4 51.9C488.6 52.0 491.8 52.1 494.6 52.7C497.4 53.2 500.5 54.5 504.3 55.1C508.0 55.6 512.6 55.2 517.1 55.9C521.7 56.5 528.0 58.0 531.6 59.1C535.2 60.2 536.0 61.8 538.8 62.3C541.6 62.8 545.6 62.7 548.1 62.3C550.7 61.9 552.0 60.4 554.1 59.9C556.1 59.4 558.1 59.0 560.5 59.1C562.9 59.2 566.1 60.7 568.5 60.7C570.9 60.7 573.5 59.6 574.9 59.1C576.3 58.6 576.5 57.8 576.9 57.5M487.4 57.5C488.1 57.8 489.7 58.3 491.4 59.1C493.1 59.9 494.6 62.3 497.5 62.3C500.5 62.3 505.0 60.2 509.1 59.1C513.2 58.0 517.9 56.7 521.9 55.9C526.0 55.1 530.4 54.5 533.2 54.3C536.0 54.0 536.3 54.5 538.8 54.3C541.3 54.0 546.6 52.9 548.1 52.7M487.4 64.7C488.1 64.2 489.7 61.9 491.4 61.5C493.1 61.1 495.4 61.5 497.5 62.3C499.7 63.1 501.5 65.0 504.3 66.3C507.0 67.7 511.0 69.1 513.9 70.3C516.9 71.5 519.8 72.6 521.9 73.5C524.1 74.5 526.0 75.5 526.8 76.0M487.4 67.1C488.1 67.1 489.7 67.7 491.4 67.1C493.1 66.6 494.6 64.3 497.5 63.9C500.5 63.5 504.5 64.8 509.1 64.7C513.7 64.6 520.2 63.5 525.1 63.1C530.1 62.7 535.0 62.3 538.8 62.3C542.6 62.3 545.0 62.7 548.1 63.1C551.2 63.5 554.4 64.3 557.3 64.7C560.1 65.1 562.0 65.6 565.3 65.5C568.6 65.4 573.3 64.3 576.9 63.9C580.4 63.5 583.5 63.4 586.5 63.1C589.5 62.8 593.6 62.4 595.0 62.3M497.5 65.5C498.9 66.0 503.1 67.7 505.9 68.7C508.6 69.8 511.5 70.7 513.9 71.9C516.3 73.1 519.3 75.3 520.3 76.0M565.3 76.0C566.1 75.0 568.2 71.9 570.1 70.3C572.0 68.7 574.1 67.3 576.9 66.3C579.6 65.4 583.5 64.6 586.5 64.7C589.5 64.8 593.6 66.7 595.0 67.1M586.5 67.1C587.2 67.9 589.6 70.9 591.0 71.9C592.4 73.0 594.3 73.3 595.0 73.5M485.0 76.0C486.1 76.3 489.3 77.3 491.4 77.6C493.5 77.9 495.7 77.9 497.5 77.6C499.4 77.3 501.8 76.3 502.7 76.0M513.9 76.0C515.5 76.4 520.3 77.6 523.5 78.4C526.8 79.2 530.4 80.1 533.2 80.8C536.0 81.5 538.5 81.5 540.4 82.4C542.3 83.4 543.1 85.0 544.4 86.4C545.7 87.9 546.8 90.3 548.1 91.3C549.5 92.2 550.9 92.3 552.4 92.1C554.0 91.8 555.1 90.7 557.3 89.7C559.4 88.6 562.9 86.8 565.3 85.6C567.7 84.4 569.8 83.1 571.7 82.4C573.6 81.8 574.4 82.0 576.9 81.6C579.3 81.2 584.1 79.6 586.5 80.0C588.8 80.4 589.6 82.6 591.0 84.0C592.4 85.5 594.3 88.0 595.0 88.8M487.4 82.4C488.1 82.7 489.7 83.5 491.4 84.0C493.1 84.6 495.1 85.2 497.5 85.6C499.9 86.0 503.1 85.6 505.9 86.4C508.6 87.2 511.0 89.1 513.9 90.5C516.9 91.8 520.6 93.1 523.5 94.5C526.5 95.8 529.0 97.7 531.6 98.5C534.1 99.3 536.0 99.2 538.8 99.3C541.6 99.4 545.0 99.2 548.1 99.3C551.2 99.4 554.4 100.0 557.3 100.1C560.1 100.2 562.0 100.0 565.3 100.1C568.6 100.1 573.3 100.4 576.9 100.4C580.4 100.5 583.5 100.4 586.5 100.4C589.5 100.4 593.6 100.4 595.0 100.4M497.5 84.8C499.5 85.0 505.8 85.0 509.1 85.6C512.4 86.3 514.4 87.8 517.1 88.8C519.8 89.9 522.5 90.7 525.1 92.1C527.8 93.4 530.9 95.8 533.2 96.9C535.5 97.9 537.9 98.2 538.8 98.5M502.7 76.0C503.2 77.1 504.8 79.7 505.9 82.4C506.9 85.1 508.0 88.8 509.1 92.1C510.2 95.3 511.0 98.2 512.3 101.7C513.6 105.2 515.9 110.4 517.1 112.9C518.3 115.5 519.1 116.3 519.5 117.0M487.4 94.5C488.1 94.9 489.7 96.1 491.4 96.9C493.1 97.7 495.4 99.0 497.5 99.3C499.7 99.6 502.3 98.3 504.3 98.5C506.2 98.6 507.5 99.3 509.1 100.1C510.7 100.9 512.3 102.0 513.9 103.3C515.5 104.6 517.1 106.5 518.7 108.1C520.3 109.7 522.2 111.5 523.5 112.9C524.9 114.4 526.2 116.3 526.8 117.0M487.4 116.1C488.3 116.0 490.8 115.7 493.0 115.3C495.3 114.9 498.7 113.9 501.1 113.7C503.5 113.6 505.3 114.0 507.5 114.5C509.6 115.1 512.8 116.5 513.9 117.0M565.3 76.0C563.7 77.6 558.3 83.0 555.7 85.6C553.0 88.3 550.8 89.7 549.2 92.1C547.6 94.5 547.1 97.4 546.0 100.1C545.0 102.8 543.7 105.3 542.8 108.1C541.9 110.9 540.8 115.5 540.4 117.0M548.1 95.3C549.1 96.1 552.3 99.0 554.1 100.1C555.8 101.2 557.0 102.0 558.9 101.7C560.7 101.4 563.2 100.6 565.3 98.5C567.4 96.3 569.8 91.1 571.7 88.8C573.6 86.6 574.4 85.8 576.9 84.8C579.3 83.9 584.1 82.8 586.5 83.2C588.8 83.6 589.6 85.8 591.0 87.2C592.4 88.7 594.3 91.3 595.0 92.1M565.3 117.0C565.8 115.5 567.3 110.9 568.5 108.1C569.7 105.3 571.1 101.8 572.5 100.1C573.9 98.3 575.4 97.7 576.9 97.7C578.3 97.7 579.7 98.3 581.4 100.1C583.0 101.8 584.9 106.2 586.5 108.1C588.1 110.0 589.6 111.1 591.0 111.3C592.4 111.6 594.3 110.0 595.0 109.7M568.5 117.0C569.2 115.5 571.1 111.2 572.5 108.1C573.9 105.0 575.4 99.6 576.9 98.5C578.3 97.4 579.7 99.8 581.4 101.7C583.0 103.6 585.6 108.4 586.5 109.7M586.5 106.5C587.2 106.0 589.6 104.4 591.0 103.3C592.4 102.2 594.3 100.6 595.0 100.1M487.4 122.4C488.1 122.0 489.7 120.8 491.4 120.0C493.1 119.2 495.4 118.6 497.5 117.6C499.7 116.6 501.5 114.2 504.3 113.9C507.0 113.7 511.0 115.1 513.9 116.0C516.9 116.9 519.5 118.3 521.9 119.2C524.3 120.2 525.5 120.8 528.4 121.6C531.2 122.4 536.7 124.8 538.8 124.0C540.9 123.2 540.5 118.8 541.2 116.8C541.9 114.8 542.5 112.8 542.8 112.0M497.5 118.4C498.4 119.8 500.7 124.6 502.7 126.5C504.6 128.3 506.9 129.1 509.1 129.7C511.2 130.2 513.6 128.9 515.5 129.7C517.4 130.5 518.7 132.9 520.3 134.5C521.9 136.1 523.5 137.4 525.1 139.3C526.8 141.2 528.6 143.4 530.0 145.7C531.3 148.0 532.6 151.7 533.2 153.0M497.5 120.0C498.4 120.8 501.0 123.4 502.7 124.8C504.3 126.3 505.6 128.3 507.5 128.9C509.4 129.4 512.0 127.4 513.9 128.1C515.8 128.7 517.1 131.1 518.7 132.9C520.3 134.6 521.9 136.6 523.5 138.5C525.1 140.4 527.0 141.7 528.4 144.1C529.7 146.5 531.0 151.5 531.6 153.0M513.9 112.0C514.4 113.6 516.0 118.4 517.1 121.6C518.2 124.8 519.3 128.1 520.3 131.3C521.4 134.5 522.5 138.0 523.5 140.9C524.6 143.9 526.0 146.9 526.8 148.9C527.6 150.9 528.1 152.3 528.4 153.0M487.4 142.5C488.1 142.6 489.7 142.9 491.4 143.3C493.1 143.7 495.4 144.8 497.5 144.9C499.7 145.1 502.1 144.0 504.3 144.1C506.5 144.3 508.6 144.9 510.7 145.7C512.8 146.5 515.2 147.7 517.1 148.9C519.0 150.1 521.1 152.3 521.9 153.0M487.4 149.7C489.1 149.3 494.4 147.6 497.5 147.3C500.6 147.1 503.4 147.6 505.9 148.1C508.3 148.7 510.4 149.7 512.3 150.5C514.2 151.3 516.3 152.5 517.1 153.0M538.8 132.9C540.4 133.5 545.3 135.8 548.1 136.9C550.9 138.0 553.3 138.4 555.7 139.3C558.0 140.2 559.7 141.7 562.1 142.5C564.5 143.3 567.7 143.7 570.1 144.1C572.6 144.5 575.0 145.7 576.9 144.9C578.7 144.1 579.7 141.6 581.4 139.3C583.0 137.0 584.9 134.2 586.5 131.3C588.1 128.3 589.6 123.8 591.0 121.6C592.4 119.5 594.3 119.0 595.0 118.4M538.8 134.5C540.4 135.0 545.0 136.6 548.1 137.7C551.2 138.8 554.4 139.3 557.3 140.9C560.1 142.5 562.9 145.3 565.3 147.3C567.7 149.3 570.6 152.0 571.7 153.0M540.4 153.0C541.3 151.7 544.0 148.0 546.0 145.7C548.0 143.4 550.6 142.0 552.4 139.3C554.3 136.6 555.9 132.1 557.3 129.7C558.6 127.3 559.1 126.5 560.5 124.8C561.8 123.2 564.2 121.9 565.3 120.0C566.4 118.2 566.4 114.9 566.9 113.6C567.4 112.3 568.2 112.3 568.5 112.0M555.7 153.0C556.2 151.5 557.9 147.5 558.9 144.1C559.8 140.8 560.7 135.9 561.4 132.9C562.1 129.9 562.5 127.4 563.0 126.1C563.6 124.8 563.9 124.7 564.7 125.2C565.5 125.6 566.6 126.9 567.9 128.9C569.2 130.8 571.0 134.3 572.5 136.9C574.0 139.4 575.4 144.3 576.9 144.1C578.3 144.0 579.7 138.8 581.4 136.1C583.0 133.4 584.9 130.5 586.5 128.1C588.1 125.7 589.6 123.2 591.0 121.6C592.4 120.0 594.3 119.0 595.0 118.4M542.8 153.0C543.7 151.7 546.2 147.5 548.1 145.7C550.0 144.0 552.0 142.8 554.1 142.5C556.1 142.2 559.4 143.9 560.5 144.1M581.4 112.0C582.2 112.5 584.9 114.9 586.5 115.2C588.1 115.5 589.6 114.1 591.0 113.6C592.4 113.1 594.3 112.3 595.0 112.0"/><path clip-path="url(#bc3)" d="M509.1 148.0C509.9 148.8 512.0 151.2 513.9 152.8C515.8 154.4 518.5 156.3 520.3 157.6C522.2 159.0 523.8 160.0 525.1 160.8C526.5 161.7 527.0 162.5 528.4 162.5C529.7 162.5 531.4 161.0 533.2 160.8C534.9 160.7 537.6 160.8 538.8 161.7C540.0 162.5 539.7 163.9 540.4 165.7C541.1 167.4 541.9 169.7 542.8 172.1C543.7 174.5 545.5 178.8 546.0 180.1M527.6 148.0C528.0 148.8 529.0 151.6 530.0 152.8C530.9 154.0 531.7 155.0 533.2 155.2C534.6 155.5 537.6 155.1 538.8 154.4C540.0 153.8 539.9 152.3 540.4 151.2C540.9 150.1 541.7 148.5 542.0 148.0M538.8 148.0C539.5 149.3 541.6 153.4 542.8 156.0C544.0 158.7 545.1 162.3 546.0 164.1C546.9 165.8 547.3 166.7 548.1 166.5C548.9 166.2 549.9 164.5 550.8 162.5C551.8 160.4 553.1 156.8 554.1 154.4C555.0 152.0 556.1 149.1 556.5 148.0M560.5 148.0C561.8 148.5 566.1 150.1 568.5 151.2C570.9 152.3 573.5 153.5 574.9 154.4C576.3 155.4 575.8 155.8 576.9 156.8C577.9 157.9 579.7 159.6 581.4 160.8C583.0 162.1 584.2 162.7 586.5 164.1C588.8 165.4 593.6 168.1 595.0 168.9M568.5 148.0C569.9 148.7 573.9 151.2 576.9 152.0C579.9 152.8 583.5 152.8 586.5 152.8C589.5 152.8 593.6 152.1 595.0 152.0M487.4 148.8C488.1 148.9 489.7 149.2 491.4 149.6C493.1 150.0 495.4 150.1 497.5 151.2C499.6 152.3 502.1 154.1 504.3 156.0C506.5 157.9 508.6 160.0 510.7 162.5C512.8 165.0 514.8 166.6 517.1 171.0C519.4 175.4 522.2 183.6 524.6 189.0C527.0 194.4 529.2 198.6 531.5 203.5C533.8 208.4 537.3 215.8 538.5 218.3M505.9 148.0C506.7 149.1 508.8 152.0 510.7 154.4C512.6 156.8 515.2 160.2 517.1 162.5C519.0 164.8 520.3 167.3 521.9 168.1C523.5 168.9 525.7 166.6 526.8 167.3C527.9 168.0 527.9 170.0 528.4 172.1C528.9 174.2 529.4 177.3 530.0 180.1C530.6 182.9 531.1 185.2 532.0 189.0C532.9 192.8 534.2 198.1 535.3 203.0C536.4 207.9 538.0 215.8 538.5 218.3M512.0 150.0C512.8 151.2 515.5 154.3 517.0 157.0C518.5 159.7 519.8 162.2 521.0 166.0C522.2 169.8 523.2 176.2 524.3 180.0C525.4 183.8 526.2 185.2 527.7 189.0C529.2 192.8 531.2 198.1 533.0 203.0C534.8 207.9 537.6 215.8 538.5 218.3M514.0 150.0C515.0 151.7 518.2 156.7 520.0 160.0C521.8 163.3 523.2 166.7 524.5 170.0C525.8 173.3 526.6 176.8 527.6 180.0C528.6 183.2 529.1 185.2 530.2 189.0C531.3 192.8 532.8 198.1 534.2 203.0C535.6 207.9 537.8 215.8 538.5 218.3M546.0 180.1C546.4 180.8 547.3 182.9 548.2 184.3C549.1 185.7 550.0 186.8 551.4 188.6C552.8 190.4 555.0 194.7 556.8 195.0C558.6 195.3 560.5 193.0 562.1 190.7C563.7 188.4 565.2 184.4 566.5 181.0C567.8 177.6 568.9 173.5 570.0 170.0C571.1 166.5 572.1 162.8 573.3 160.0C574.5 157.2 576.4 154.2 577.0 153.0M538.5 218.3C539.0 216.1 540.4 209.2 541.5 205.0C542.6 200.8 543.9 196.4 545.0 193.0C546.1 189.6 546.4 186.3 548.2 184.5C550.0 182.7 553.1 183.5 555.7 182.1C558.3 180.7 561.6 178.3 563.7 176.0C565.8 173.7 567.0 171.0 568.5 168.0C570.0 165.0 571.1 160.5 572.5 158.0C573.9 155.5 576.2 153.7 577.0 152.8M538.5 218.3C539.1 215.8 540.8 207.7 542.0 203.0C543.2 198.3 544.7 193.4 545.7 190.0C546.7 186.6 546.5 184.2 548.2 182.5C549.9 180.8 553.1 181.5 555.7 180.0C558.3 178.5 561.6 176.0 563.7 173.7C565.8 171.4 567.0 168.8 568.5 166.0C570.0 163.2 571.1 159.2 572.5 157.0C573.9 154.8 576.2 153.2 577.0 152.5"/><path clip-path="url(#bc4)" d="M497.5 46.4C498.3 45.9 500.7 44.3 502.5 43.5C504.3 42.7 506.4 42.2 508.3 41.8C510.2 41.4 512.2 41.2 514.2 41.2C516.2 41.2 518.0 41.4 520.0 41.8C522.0 42.2 523.9 42.9 525.9 43.5C527.9 44.1 529.6 44.8 531.7 45.3C533.8 45.8 537.4 46.2 538.5 46.4M497.5 47.2C499.3 47.1 504.6 46.6 508.3 46.4C512.0 46.2 516.1 45.8 520.0 45.8C523.9 45.8 528.6 46.2 531.7 46.4C534.8 46.6 537.4 47.1 538.5 47.2M497.5 48.2C499.3 48.2 504.6 48.5 508.3 48.4C512.0 48.3 516.1 48.0 520.0 47.9C523.9 47.8 528.6 47.6 531.7 47.6C534.8 47.6 537.4 47.9 538.5 47.9M497.5 49.3C498.3 49.5 500.7 50.2 502.5 50.5C504.3 50.8 506.4 51.1 508.3 51.1C510.2 51.1 512.2 50.9 514.2 50.5C516.2 50.1 518.0 49.2 520.0 48.8C522.0 48.4 523.9 48.3 525.9 48.2C527.9 48.1 529.6 48.3 531.7 48.4C533.8 48.5 537.4 48.7 538.5 48.8M497.5 50.3C498.5 50.5 501.5 51.4 503.7 51.7C505.9 52.0 508.4 52.1 510.7 52.3C513.0 52.5 515.8 52.4 517.7 52.8C519.7 53.2 520.9 54.2 522.4 54.6C523.9 55.0 525.5 55.4 527.0 55.2C528.5 55.0 529.8 54.0 531.7 53.4C533.6 52.8 537.4 52.0 538.5 51.7M497.5 51.7C499.3 51.6 505.5 51.1 508.3 51.1C511.1 51.1 512.2 51.3 514.2 51.7C516.2 52.1 518.5 52.8 520.0 53.4C521.5 54.0 521.9 54.5 523.5 55.2C525.1 55.9 527.4 56.6 529.4 57.5C531.4 58.4 533.7 59.6 535.2 60.4C536.7 61.2 538.0 61.9 538.5 62.2M497.5 52.8C499.3 53.0 504.9 53.6 508.3 54.0C511.7 54.4 515.2 55.2 517.7 55.2C520.2 55.2 521.2 54.5 523.5 54.0C525.8 53.5 529.2 52.8 531.7 52.3C534.2 51.8 537.4 51.3 538.5 51.1M497.5 61.6C498.3 61.3 500.7 60.5 502.5 59.8C504.3 59.1 506.4 58.1 508.3 57.5C510.2 56.9 512.2 56.6 514.2 56.3C516.2 56.0 518.0 55.8 520.0 55.8C522.0 55.8 523.9 55.8 525.9 56.3C527.9 56.8 529.6 57.8 531.7 58.7C533.8 59.6 537.4 61.1 538.5 61.6M497.5 62.6C498.5 62.8 501.5 63.4 503.7 63.8C505.9 64.2 508.8 64.8 510.7 64.9C512.6 65.0 513.3 64.6 515.3 64.3C517.2 64.0 519.7 63.5 522.4 63.2C525.1 62.9 529.0 62.8 531.7 62.6C534.4 62.4 537.4 62.1 538.5 62.0M497.5 68.4C498.3 68.3 500.7 67.5 502.5 67.8C504.3 68.1 506.4 69.4 508.3 70.2C510.2 71.0 512.2 71.7 514.2 72.5C516.2 73.3 518.0 74.8 520.0 74.8C522.0 74.8 523.9 73.5 525.9 72.5C527.9 71.5 530.2 70.2 531.7 69.0C533.2 67.8 534.1 66.5 535.2 65.5C536.3 64.5 538.0 63.6 538.5 63.2M497.5 67.6C498.3 67.8 500.7 68.2 502.5 68.8C504.3 69.4 506.4 70.3 508.3 71.1C510.2 71.9 512.2 72.7 514.2 73.5C516.2 74.3 518.0 74.9 520.0 75.8C522.0 76.7 523.9 78.1 525.9 78.9C527.9 79.7 529.6 80.3 531.7 80.7C533.8 81.1 537.4 81.2 538.5 81.3M497.5 64.3C497.9 65.1 499.4 67.4 500.2 69.0C501.0 70.6 501.7 72.0 502.5 73.7C503.3 75.5 504.0 77.6 504.8 79.5C505.6 81.4 506.4 83.2 507.2 85.3C508.0 87.4 508.7 89.9 509.5 92.0C510.3 94.1 511.1 96.0 511.8 98.0C512.5 100.0 513.0 102.0 513.5 104.0C514.0 106.0 514.5 108.2 515.0 110.0C515.5 111.8 516.0 113.2 516.5 114.7C517.0 116.2 517.3 117.5 517.7 119.3C518.1 121.0 518.5 123.2 518.9 125.2C519.3 127.2 519.6 129.1 520.0 131.0C520.4 132.9 520.8 135.3 521.2 136.8C521.6 138.3 522.0 138.6 522.4 140.0C522.8 141.4 523.1 143.3 523.5 145.0C523.9 146.7 524.3 149.2 524.5 150.0M498.0 66.0C498.5 66.8 500.0 69.2 501.0 71.0C502.0 72.8 503.0 74.8 504.0 77.0C505.0 79.2 506.0 81.8 507.0 84.0C508.0 86.2 509.0 88.1 510.0 90.0C511.0 91.9 511.9 93.7 513.0 95.5C514.1 97.3 515.3 99.2 516.5 101.0C517.7 102.8 518.8 104.2 520.0 106.0C521.2 107.8 522.1 110.2 523.5 112.0C524.9 113.8 526.6 115.6 528.2 117.0C529.8 118.4 531.5 119.5 532.9 120.5C534.3 121.5 535.5 122.2 536.4 122.8C537.3 123.3 538.1 123.6 538.5 123.8M497.5 84.8C498.3 85.0 500.7 85.6 502.5 85.9C504.3 86.2 506.4 86.1 508.3 86.5C510.2 86.9 512.6 88.0 514.2 88.5C515.8 89.0 516.2 88.9 517.7 89.5C519.2 90.1 521.5 91.2 523.5 92.2C525.5 93.2 527.6 94.4 529.4 95.3C531.1 96.2 532.5 97.1 534.0 97.7C535.5 98.3 537.8 98.6 538.5 98.8M497.5 86.2C498.8 86.4 502.9 87.3 505.0 87.6C507.1 87.9 508.3 88.0 510.0 88.0C511.7 88.0 513.6 87.3 515.3 87.6C517.0 87.9 518.2 88.9 520.0 89.8C521.8 90.7 523.9 92.1 525.9 93.2C527.9 94.3 530.0 95.7 531.7 96.5C533.5 97.3 535.3 97.8 536.4 98.3C537.5 98.8 538.1 99.0 538.5 99.2M497.5 77.2C498.3 77.1 501.1 76.6 502.5 76.6C503.9 76.6 504.6 76.7 506.0 77.2C507.4 77.7 509.1 78.7 510.7 79.5C512.2 80.3 513.8 81.1 515.3 81.8C516.8 82.5 518.2 83.0 520.0 83.6C521.8 84.2 523.9 84.6 525.9 85.3C527.9 86.0 529.6 86.9 531.7 87.7C533.8 88.5 537.4 89.6 538.5 90.0M497.5 99.4C498.3 99.2 500.7 98.3 502.5 98.3C504.3 98.3 506.8 98.5 508.3 99.4C509.9 100.3 510.8 101.8 511.8 103.5C512.8 105.2 513.5 107.2 514.2 109.3C514.9 111.4 515.4 113.9 515.9 116.0C516.4 118.1 517.0 120.0 517.5 122.0C518.0 124.0 518.5 126.0 519.0 128.0C519.5 130.0 520.0 132.0 520.5 134.0C521.0 136.0 521.5 138.0 522.0 140.0C522.5 142.0 523.0 144.0 523.5 146.0C524.0 148.0 524.8 151.0 525.0 152.0M497.5 117.6C498.5 117.0 501.9 114.7 503.7 114.1C505.5 113.5 506.6 113.8 508.3 114.1C510.1 114.4 512.2 114.9 514.2 115.8C516.2 116.7 518.0 117.9 520.0 119.3C522.0 120.7 523.9 122.4 525.9 124.0C527.9 125.6 530.0 127.3 531.7 128.7C533.5 130.1 535.3 131.4 536.4 132.2C537.5 133.0 538.1 133.1 538.5 133.3M497.5 118.4C498.5 117.8 501.3 115.5 503.7 115.0C506.1 114.5 509.5 114.9 511.8 115.5C514.1 116.1 515.4 117.2 517.7 118.4C520.1 119.6 523.6 121.3 525.9 122.8C528.2 124.3 530.0 126.1 531.7 127.5C533.5 128.9 535.3 130.2 536.4 131.0C537.5 131.8 538.1 132.0 538.5 132.2M497.5 119.3C498.1 120.1 500.1 122.4 501.3 124.0C502.5 125.6 503.6 127.6 504.8 128.7C506.0 129.8 506.9 130.2 508.3 130.4C509.7 130.6 511.6 129.7 513.0 129.8C514.4 129.9 515.5 130.4 516.5 131.0C517.5 131.6 518.2 132.3 518.9 133.3C519.6 134.3 519.9 135.6 520.5 137.0C521.1 138.4 521.7 140.2 522.4 142.0C523.1 143.8 523.8 145.6 524.5 147.5C525.2 149.4 525.9 151.2 526.4 153.3C526.9 155.4 527.4 158.9 527.6 160.0M497.5 132.9C498.3 133.0 500.9 133.2 502.5 133.5C504.1 133.8 505.8 133.9 507.2 134.7C508.6 135.5 509.5 136.8 510.7 138.2C511.9 139.5 513.0 141.2 514.2 142.8C515.4 144.4 516.5 145.9 517.7 147.5C518.9 149.1 520.0 150.6 521.2 152.2C522.4 153.8 523.7 155.5 524.7 156.8C525.7 158.1 526.6 159.5 527.0 160.0M497.5 144.6C498.5 144.6 501.9 144.3 503.7 144.6C505.5 144.9 506.8 145.4 508.3 146.3C509.9 147.2 511.4 148.6 513.0 149.8C514.6 151.0 516.1 152.1 517.7 153.3C519.3 154.5 521.0 155.7 522.4 156.8C523.8 157.9 525.3 159.5 525.9 160.0M497.5 145.2C498.5 145.3 501.9 145.2 503.7 145.8C505.5 146.4 506.6 147.4 508.3 148.7C510.1 149.9 512.4 151.8 514.2 153.3C516.0 154.9 517.7 156.9 518.9 158.0C520.1 159.1 520.8 159.7 521.2 160.0M506.0 130.0C506.8 130.4 508.9 131.5 510.7 132.3C512.5 133.1 515.0 133.9 516.5 134.7C518.0 135.5 519.0 135.8 520.0 137.0C521.0 138.2 521.6 140.1 522.4 141.7C523.2 143.2 523.7 144.8 524.7 146.3C525.7 147.9 526.8 149.6 528.2 151.0C529.6 152.4 531.5 153.6 532.9 154.5C534.3 155.4 535.5 155.9 536.4 156.3C537.3 156.7 538.1 156.7 538.5 156.8M529.4 130.0C530.2 130.4 532.5 131.5 534.0 132.3C535.5 133.1 537.8 134.3 538.5 134.7"/><path clip-path="url(#bc5)" d="M586.4 64.4C586.9 64.6 588.4 64.9 589.3 65.6C590.2 66.3 590.7 67.2 591.7 68.5C592.7 69.8 594.1 71.9 595.2 73.2C596.4 74.5 597.2 75.5 598.6 76.6C600.0 77.7 601.5 78.8 603.3 79.6C605.0 80.4 607.1 80.9 609.1 81.3C611.1 81.7 614.4 82.0 615.5 82.1M577.0 67.5C577.5 67.4 578.9 67.0 580.0 66.7C581.1 66.4 582.4 66.0 583.5 65.6C584.6 65.2 585.2 64.3 586.4 64.4C587.6 64.5 589.2 65.3 590.5 66.2C591.8 67.1 592.8 68.8 594.0 69.7C595.2 70.6 596.3 71.0 597.5 71.4C598.7 71.8 599.6 72.2 601.0 72.0C602.4 71.8 604.1 71.0 605.6 70.2C607.1 69.4 608.6 68.5 610.3 67.3C611.9 66.1 614.6 63.7 615.5 63.0M575.0 82.3C575.8 82.0 578.2 81.0 579.7 80.5C581.2 80.0 582.9 79.3 584.3 79.1C585.6 78.9 586.6 78.8 587.8 79.1C589.0 79.4 590.1 80.1 591.3 81.1C592.5 82.1 593.6 83.8 594.8 85.2C596.0 86.6 596.9 88.4 598.3 89.3C599.7 90.2 601.6 89.9 603.0 90.4C604.4 90.9 605.3 91.4 606.5 92.2C607.7 93.0 608.8 94.1 610.0 95.1C611.2 96.1 612.6 97.3 613.5 98.0C614.4 98.7 615.2 99.0 615.5 99.2M575.0 85.2C575.8 84.9 578.2 84.0 579.7 83.4C581.2 82.8 582.9 82.0 584.3 81.7C585.6 81.4 586.6 81.2 587.8 81.7C589.0 82.2 590.1 83.4 591.3 84.6C592.5 85.8 593.8 87.2 594.8 88.7C595.8 90.2 596.4 91.8 597.2 93.3C598.0 94.8 598.8 96.4 599.5 98.0C600.2 99.6 600.8 101.0 601.5 103.0C602.2 105.0 602.8 107.8 603.5 109.7C604.2 111.6 604.8 113.0 605.5 114.3C606.2 115.6 607.0 116.8 607.7 117.8C608.5 118.8 609.0 119.4 610.0 120.2C611.0 121.0 612.6 122.0 613.5 122.5C614.4 123.0 615.2 123.0 615.5 123.1M575.0 100.8C577.5 100.8 585.8 100.7 590.0 100.6C594.2 100.5 595.8 100.3 600.0 100.1C604.2 99.9 612.9 99.4 615.5 99.3M575.0 98.5C575.6 98.9 577.3 99.9 578.5 101.0C579.7 102.1 580.6 103.8 582.0 105.0C583.4 106.2 585.3 108.3 586.7 108.5C588.1 108.7 589.0 107.1 590.2 106.2C591.4 105.3 592.5 104.1 593.7 103.3C594.9 102.5 596.2 101.8 597.2 101.5C598.2 101.2 598.6 100.7 599.5 101.5C600.4 102.3 601.5 104.7 602.4 106.2C603.3 107.8 604.0 109.3 604.8 110.8C605.6 112.2 606.2 113.5 607.1 114.9C608.0 116.3 609.1 117.6 610.0 119.0C610.9 120.4 611.4 121.7 612.3 123.1C613.2 124.5 615.0 126.5 615.5 127.2M575.0 97.5C575.8 98.7 578.3 102.4 579.7 104.4C581.1 106.4 582.0 108.0 583.2 109.7C584.4 111.5 585.5 114.3 586.7 114.9C587.9 115.5 589.0 113.8 590.2 113.2C591.4 112.6 592.5 111.5 593.7 111.4C594.9 111.3 596.0 111.9 597.2 112.6C598.4 113.3 599.5 114.3 600.7 115.5C601.9 116.7 603.0 118.3 604.2 119.6C605.4 120.9 606.5 122.0 607.7 123.1C608.9 124.2 609.9 125.2 611.2 126.0C612.5 126.8 614.8 127.7 615.5 128.0M586.9 123.2C587.3 123.6 588.6 124.6 589.3 125.6C590.0 126.6 590.6 127.6 591.3 129.0C592.0 130.4 592.9 132.3 593.7 134.0C594.5 135.7 595.2 137.3 596.0 139.0C596.8 140.7 597.5 142.4 598.3 144.0C599.1 145.6 599.9 147.0 600.7 148.5C601.5 150.0 602.4 151.1 603.0 153.0C603.6 154.9 604.1 157.5 604.5 160.0C604.9 162.5 605.2 165.0 605.5 168.0C605.8 171.0 604.4 169.6 606.1 178.0C607.8 186.4 613.9 211.6 615.5 218.3M576.8 144.3C577.3 143.0 578.9 139.1 579.9 136.5C580.9 133.9 582.0 130.8 583.0 128.7C584.0 126.6 585.5 124.9 586.1 124.0C586.8 123.1 586.4 122.9 586.9 123.2C587.4 123.5 588.4 123.9 589.3 125.6C590.2 127.3 591.4 130.8 592.4 133.4C593.4 136.0 594.5 138.4 595.5 141.2C596.5 144.0 597.7 146.6 598.6 150.0C599.5 153.4 600.2 158.8 600.7 161.7C601.2 164.6 601.3 164.8 601.8 167.5C602.3 170.2 601.3 169.5 603.6 178.0C605.9 186.5 613.5 211.6 615.5 218.3M575.0 155.8C575.8 156.4 578.2 158.1 579.7 159.3C581.2 160.5 583.1 162.0 584.3 162.8C585.5 163.6 585.7 163.5 586.7 164.0C587.7 164.5 589.0 165.2 590.2 165.8C591.4 166.4 592.5 166.8 593.7 167.5C594.9 168.2 596.5 169.1 597.5 170.0C598.5 170.9 599.4 171.7 600.0 173.0C600.6 174.3 598.6 170.4 601.2 178.0C603.8 185.6 613.1 211.6 615.5 218.3M575.0 154.7C575.8 155.1 578.2 156.0 579.7 157.0C581.2 158.0 583.1 159.6 584.3 160.5C585.5 161.4 585.7 161.7 586.7 162.3C587.7 162.9 589.2 163.2 590.2 164.0C591.2 164.8 592.1 165.8 593.0 167.0C593.9 168.2 594.7 169.2 595.5 171.0C596.3 172.8 594.6 170.1 597.9 178.0C601.2 185.9 612.6 211.6 615.5 218.3M575.0 151.8C575.8 152.1 577.8 153.1 579.7 153.3C581.7 153.5 584.6 153.6 586.7 152.8C588.8 152.0 590.6 150.0 592.5 148.3C594.4 146.6 596.2 144.2 598.3 142.5C600.4 140.8 603.0 139.2 605.3 137.8C607.6 136.4 610.6 135.0 612.3 134.3C614.0 133.6 615.0 133.8 615.5 133.7M603.0 125.0C603.6 125.4 605.4 126.6 606.5 127.5C607.6 128.4 608.5 129.6 609.5 130.5C610.5 131.4 611.3 132.2 612.3 132.8C613.3 133.4 615.0 133.7 615.5 133.9M606.5 124.5C606.9 124.8 608.2 125.6 609.0 126.0C609.8 126.4 610.4 126.7 611.5 127.0C612.6 127.3 614.8 127.8 615.5 127.9M575.0 164.0C576.0 163.9 578.8 163.6 580.8 163.4C582.8 163.2 585.0 163.2 586.7 162.8C588.5 162.4 589.8 161.8 591.3 161.1C592.8 160.4 594.4 159.5 596.0 158.8C597.6 158.1 599.0 157.6 600.7 157.0C602.5 156.4 604.0 155.7 606.5 155.3C609.0 154.9 614.0 154.8 615.5 154.7M575.0 161.5C577.0 161.6 583.6 162.0 586.7 161.9C589.8 161.8 591.5 161.1 593.7 161.1C595.9 161.1 597.9 161.6 600.0 161.7C602.1 161.8 603.9 161.7 606.5 161.7C609.1 161.7 614.0 161.5 615.5 161.5M598.5 150.5C599.0 150.6 600.7 150.7 601.8 151.0C602.9 151.3 603.9 151.9 605.3 152.3C606.7 152.7 608.3 153.1 610.0 153.3C611.7 153.5 614.6 153.5 615.5 153.5M545.0 44.4C546.6 44.3 551.5 44.0 554.8 43.6C558.1 43.2 561.9 42.1 564.6 42.0C567.3 41.9 569.1 42.4 571.1 42.8C573.2 43.2 574.3 44.3 576.9 44.4C579.4 44.6 583.8 44.2 586.7 43.6C589.5 43.1 591.4 41.4 594.0 41.2C596.6 40.9 599.5 41.6 602.2 42.0C604.9 42.4 608.1 43.1 610.4 43.6C612.6 44.2 614.7 45.0 615.6 45.3M545.0 46.1C546.6 45.9 551.3 45.5 554.8 45.3C558.3 45.0 562.6 44.3 566.2 44.4C569.9 44.6 573.5 45.9 576.9 46.1C580.3 46.2 583.5 45.8 586.7 45.3C589.8 44.7 592.8 42.9 595.7 42.8C598.5 42.7 600.5 43.8 603.8 44.4C607.1 45.1 613.6 46.5 615.6 46.9M545.0 47.7C547.7 47.7 556.0 47.7 561.3 47.7C566.7 47.7 572.6 47.7 576.9 47.7C581.1 47.7 583.0 47.8 586.7 47.7C590.3 47.6 594.1 46.8 598.9 46.9C603.7 47.0 612.8 48.3 615.6 48.5M545.0 49.3C546.6 49.5 551.5 50.3 554.8 50.2C558.1 50.0 560.9 48.5 564.6 48.5C568.3 48.5 573.2 50.0 576.9 50.2C580.5 50.3 583.0 49.5 586.7 49.3C590.3 49.2 594.1 49.3 598.9 49.3C603.7 49.3 612.8 49.3 615.6 49.3M545.0 51.0C546.6 51.1 551.5 51.4 554.8 51.8C558.1 52.2 561.9 53.4 564.6 53.4C567.3 53.4 569.1 52.2 571.1 51.8C573.2 51.4 574.3 50.8 576.9 51.0C579.4 51.1 583.8 52.2 586.7 52.6C589.5 53.0 591.2 53.6 594.0 53.4C596.9 53.3 600.2 52.2 603.8 51.8C607.4 51.4 613.6 51.1 615.6 51.0M545.0 53.4C547.2 53.3 554.3 52.5 558.1 52.6C561.9 52.7 564.7 53.8 567.9 54.2C571.0 54.7 573.7 55.1 576.9 55.1C580.0 55.1 583.8 54.1 586.7 54.2C589.5 54.4 591.2 55.9 594.0 55.9C596.9 55.9 600.2 54.8 603.8 54.2C607.4 53.7 613.6 52.9 615.6 52.6M545.0 55.9C546.6 55.9 551.0 55.9 554.8 55.9C558.6 55.9 564.2 55.9 567.9 55.9C571.6 55.9 573.7 55.6 576.9 55.9C580.0 56.1 583.0 57.2 586.7 57.5C590.3 57.8 594.1 57.8 598.9 57.5C603.7 57.2 612.8 56.1 615.6 55.9M545.0 62.4C546.1 62.0 548.8 60.2 551.5 60.0C554.3 59.7 558.3 60.2 561.3 60.8C564.3 61.3 566.9 64.0 569.5 63.2C572.1 62.4 574.7 57.4 576.9 55.9C579.0 54.4 581.6 54.5 582.6 54.2M545.0 63.2C546.4 63.0 549.9 62.0 553.2 61.6C556.4 61.2 560.7 60.9 564.6 60.8C568.6 60.6 573.2 61.1 576.9 60.8C580.5 60.5 583.0 59.4 586.7 59.1C590.3 58.9 594.1 58.7 598.9 59.1C603.7 59.6 612.8 61.2 615.6 61.6"/></g><path d="M615.7 35.0L615.9 40.0L616.3 47.5L616.4 55.4L617.1 59.5L619.1 62.9L619.8 66.3L618.4 70.4L617.1 73.8L616.4 77.2L615.7 78.6L617.8 81.3L618.4 84.0L618.4 86.1L618.7 90.2L619.1 94.3L621.2 97.0L622.5 99.0L620.5 101.1L618.4 102.4L617.1 105.2L616.4 109.2L616.0 113.3L616.4 118.1L617.1 122.2L616.4 126.3L616.0 130.3L616.4 134.4L617.1 138.5L618.4 142.6L618.7 146.7L618.4 148.5L619.1 150.1L618.4 154.2L619.1 158.3L618.4 162.3L617.8 166.4L617.1 170.5L616.7 174.6L616.7 182.0L616.1 189.0L615.8 196.0L615.6 203.1L615.4 210.1L615.3 218.5" fill="none" stroke="#E52A2A" stroke-width="1.2" stroke-linejoin="round"/><path d="M673.7 48.1L671.3 49.3L665.5 51.0L659.7 52.8L653.8 54.5L648.0 55.9L642.2 57.4L637.5 58.9L636.2 59.8L634.8 62.3L633.4 64.3L630.7 67.0L628.0 69.8L625.3 71.8L623.2 73.8L621.9 75.9L620.5 77.2L619.1 78.6L621.2 80.0L625.3 81.3L628.7 82.7L629.3 84.0L628.0 84.7L627.3 87.4L625.9 90.2L625.3 92.9L626.6 95.6L630.0 99.0L626.6 100.4L624.6 101.8L623.2 103.8L622.8 106.5L621.9 109.2L621.2 111.3L623.2 113.3L625.9 114.7L627.3 116.0L625.9 118.8L625.3 120.8L626.6 124.2L628.7 126.9L625.9 129.7L625.3 131.7L628.7 133.8L632.1 135.8L633.4 137.8L629.3 139.9L628.0 141.9L629.3 143.3L630.7 144.7L629.3 146.7L628.0 148.7L626.6 151.4L628.0 154.2L627.3 156.9L629.3 158.9L627.3 161.0L625.9 163.7L623.9 166.4L622.5 169.2L621.2 171.2L619.8 173.2L619.3 175.3L619.6 177.6L618.8 180.3L617.9 183.8L617.4 187.3L616.7 190.8L616.1 196.0L615.8 203.0L615.5 210.0" fill="none" stroke="#22DD22" stroke-width="1.3" stroke-linejoin="round"/><path d="M615.6 35.8L616.5 37.6L618.8 38.2L624.7 39.1L636.3 40.3L645.7 41.1L652.7 41.9L656.2 42.8L659.7 44.6L665.5 45.8L671.3 47.3L673.7 48.1L671.3 49.3L665.5 51.0L659.7 52.8L653.8 54.5L648.0 55.9L642.2 57.4L637.5 58.9L636.8 60.2L639.6 62.3L641.6 63.6L638.9 65.7L634.8 67.7L630.7 70.4L626.6 73.2L625.3 75.2L625.9 76.6L623.9 77.9L621.2 78.6L619.1 79.3L623.2 80.7L628.0 82.0L632.1 83.2L632.8 84.3L630.7 86.8L631.4 90.2L630.7 92.9L629.3 94.9L633.4 97.0L638.2 99.0L633.4 100.4L628.0 101.8L624.6 103.8L623.9 106.5L622.5 109.2L621.9 111.3L623.9 113.3L626.6 114.7L628.4 116.2L626.6 118.8L625.9 120.8L628.0 124.2L629.3 126.9L626.6 129.7L625.9 131.7L629.3 133.8L633.4 135.8L634.1 137.8L632.1 139.9L629.3 141.9L631.4 143.3L633.4 144.7L632.1 146.7L630.7 148.0L632.1 150.1L632.8 152.8L630.7 154.9L632.8 157.6L633.4 158.9L630.7 161.0L629.3 163.0L630.0 165.1L627.3 167.1L625.9 169.2L624.6 171.2L622.5 173.2L620.5 175.3L618.8 177.5L617.9 179.5L617.0 182.0L617.9 185.5L617.0 189.0L616.1 192.5L616.7 196.0L616.1 199.6L615.8 203.1L616.1 206.6L615.6 210.1L615.3 215.4L615.3 218.5" fill="none" stroke="#141414" stroke-width="1.2" stroke-linejoin="round"/>
<path d="M396.1 218.90h4M611.5 218.90h8M681.5 218.90h-4M396.1 201.36h2.5M613.0 201.36h5.0M681.5 201.36h-2.5M396.1 183.82h4M611.5 183.82h8M681.5 183.82h-4M396.1 166.28h2.5M613.0 166.28h5.0M681.5 166.28h-2.5M396.1 148.73h4M611.5 148.73h8M681.5 148.73h-4M396.1 131.19h2.5M613.0 131.19h5.0M681.5 131.19h-2.5M396.1 113.65h4M611.5 113.65h8M681.5 113.65h-4M396.1 96.11h2.5M613.0 96.11h5.0M681.5 96.11h-2.5M396.1 78.57h4M611.5 78.57h8M681.5 78.57h-4M396.1 61.03h2.5M613.0 61.03h5.0M681.5 61.03h-2.5M396.1 43.48h4M611.5 43.48h8M681.5 43.48h-4M396.1 25.94h2.5M613.0 25.94h5.0M681.5 25.94h-2.5M396.1 8.40h4M611.5 8.40h8M681.5 8.40h-4M615.50 218.9v-4M615.50 8.4v4M630.00 218.9v-2.5M630.00 8.4v2.5M644.50 218.9v-4M644.50 8.4v4M659.00 218.9v-2.5M659.00 8.4v2.5M673.50 218.9v-4M673.50 8.4v4" stroke="#2a2a2a" stroke-width="1" fill="none"/>
<path d="M396.1 7.75V219.55M681.5 7.75V219.55M395.45000000000005 8.4H682.15M395.45000000000005 218.9H682.15" fill="none" stroke="#555555" stroke-width="1.3"/>
<line x1="615.5" y1="8.4" x2="615.5" y2="218.9" stroke="#555555" stroke-width="1.3"/>
<text x="391.6" y="222.70" font-size="11.7" text-anchor="end">0</text>
<text x="391.6" y="187.62" font-size="11.7" text-anchor="end">10</text>
<text x="391.6" y="152.53" font-size="11.7" text-anchor="end">20</text>
<text x="391.6" y="117.45" font-size="11.7" text-anchor="end">30</text>
<text x="391.6" y="82.37" font-size="11.7" text-anchor="end">40</text>
<text x="391.6" y="47.28" font-size="11.7" text-anchor="end">50</text>
<text x="391.6" y="12.20" font-size="11.7" text-anchor="end">60</text>
<text x="396.6" y="233.4" font-size="12.5" text-anchor="middle">Z</text>
<text x="487.9" y="233.4" font-size="12.5" text-anchor="middle">A</text>
<text x="498.6" y="233.4" font-size="12.5" text-anchor="middle">M</text>
<text x="539.7" y="233.4" font-size="11.6" text-anchor="middle">Γ</text>
<text x="548.6" y="233.4" font-size="12.5" text-anchor="middle">Z</text>
<text x="578.0" y="233.4" font-size="12.5" text-anchor="middle">R</text>
<text x="588.4" y="233.4" font-size="12.5" text-anchor="middle">X</text>
<text x="614.8" y="233.4" font-size="11.6" text-anchor="middle">Γ</text>
<text x="644.50" y="232.5" font-size="11.7" text-anchor="middle">1</text>
<text x="673.50" y="232.5" font-size="11.7" text-anchor="middle">2</text>
<text x="648.5" y="252.6" font-size="12" text-anchor="middle" class="b">PhDOS</text>
<text transform="translate(365.7 121.3) rotate(-90)" font-size="12.4" text-anchor="middle" class="b">Frequency (THz)</text>
<text x="354.6" y="20.9" font-size="13.4" letter-spacing="0.9" class="b">(b)</text>
<rect x="403.3" y="16.6" width="113.2" height="14.4" fill="#fff" stroke="#555" stroke-width="0.7"/>
<line x1="407.6" y1="25" x2="430" y2="25" stroke="#F2A048" stroke-width="1.8"/>
<text x="432.4" y="28.9" font-size="12" class="m">P-4m2@250GPa</text>
<rect x="627.3" y="175.9" width="49.8" height="35.3" fill="#fff" stroke="#555" stroke-width="0.7"/>
<line x1="631.3" y1="182.7" x2="653.3" y2="182.7" stroke="#E8232A" stroke-width="1.2"/>
<text x="655.5" y="186.2" font-size="10.1">B</text>
<line x1="631.3" y1="194.9" x2="653.3" y2="194.9" stroke="#22DD22" stroke-width="1.2"/>
<text x="655.5" y="198.4" font-size="10.1">C</text>
<line x1="631.3" y1="206.6" x2="653.3" y2="206.6" stroke="#111" stroke-width="1.2"/>
<text x="655.5" y="210.1" font-size="10.1">Total</text>
</svg>
</body></html>
